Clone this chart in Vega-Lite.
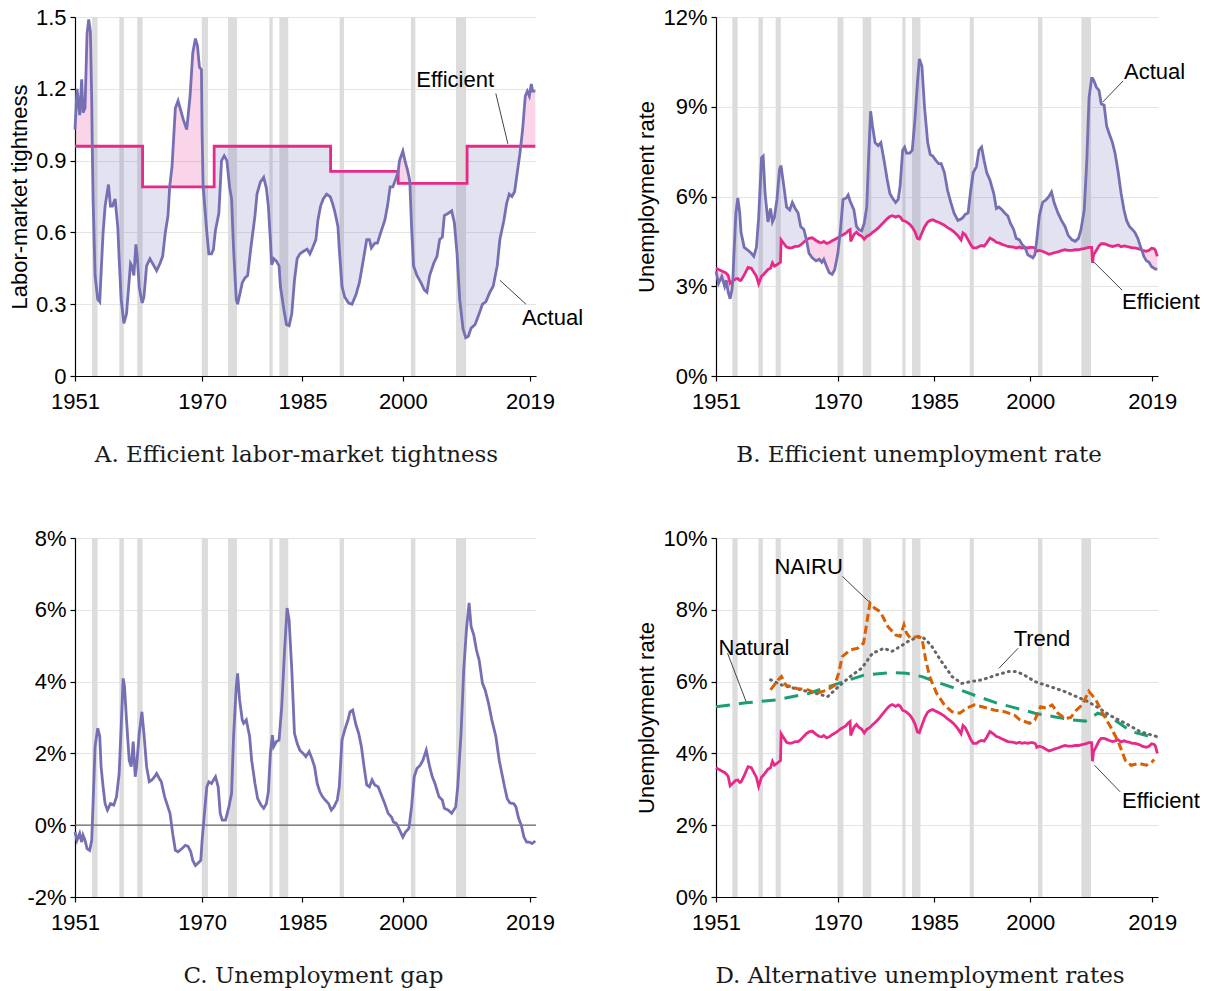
{
"$schema": "https://vega.github.io/schema/vega-lite/v6.json",
"padding": {"left": 8, "top": 6, "right": 0, "bottom": 0},
"config": {
  "view": {"stroke": null},
  "font": "Liberation Sans",
  "axis": {"labelFont": "Liberation Sans", "labelFontSize": 22, "labelColor": "#000", "titleFont": "Liberation Sans", "titleFontSize": 22, "titleFontWeight": "normal", "titleColor": "#000", "domainColor": "#000", "domainWidth": 1.2, "tickColor": "#000", "tickSize": 5, "tickWidth": 1.2, "gridColor": "#e4e4e4", "gridWidth": 1.2, "labelPadding": 4},
  "axisX": {"labelPadding": 10},
  "axisY": {"titlePadding": 4},
  "title": {"font": "DejaVu Serif", "fontSize": 23, "fontWeight": "normal", "color": "#1a1a1a"}
},
"datasets": {
  "rec": [{"t":1953.55,"t2":1954.37},{"t":1957.63,"t2":1958.3},{"t":1960.3,"t2":1961.1},{"t":1969.95,"t2":1970.87},{"t":1973.87,"t2":1975.2},{"t":1980.05,"t2":1980.55},{"t":1981.55,"t2":1982.87},{"t":1990.55,"t2":1991.2},{"t":2001.2,"t2":2001.87},{"t":2007.95,"t2":2009.45}],
  "A": [
{"t":1951.0,"a":1.03,"e":0.96},{"t":1951.3,"a":1.2,"e":0.96},{"t":1951.7,"a":1.09,"e":0.96},{"t":1952.0,"a":1.24,"e":0.96},{"t":1952.2,"a":1.1,"e":0.96},{"t":1952.5,"a":1.12,"e":0.96},{"t":1952.8,"a":1.43,"e":0.96},{"t":1953.05,"a":1.49,"e":0.96},{"t":1953.3,"a":1.44,"e":0.96},{"t":1953.5,"a":1.15,"e":0.96},{"t":1953.58,"a":0.96,"e":0.96},{"t":1953.7,"a":0.74,"e":0.96},{"t":1954.0,"a":0.42,"e":0.96},{"t":1954.4,"a":0.32,"e":0.96},{"t":1954.7,"a":0.31,"e":0.96},{"t":1954.9,"a":0.43,"e":0.96},{"t":1955.2,"a":0.6,"e":0.96},{"t":1955.5,"a":0.71,"e":0.96},{"t":1956.0,"a":0.8,"e":0.96},{"t":1956.3,"a":0.71,"e":0.96},{"t":1956.6,"a":0.71,"e":0.96},{"t":1957.0,"a":0.74,"e":0.96},{"t":1957.4,"a":0.62,"e":0.96},{"t":1957.6,"a":0.49,"e":0.96},{"t":1957.9,"a":0.32,"e":0.96},{"t":1958.3,"a":0.22,"e":0.96},{"t":1958.7,"a":0.26,"e":0.96},{"t":1959.3,"a":0.47,"e":0.96},{"t":1959.5,"a":0.46,"e":0.96},{"t":1959.8,"a":0.42,"e":0.96},{"t":1960.1,"a":0.55,"e":0.96},{"t":1960.3,"a":0.5,"e":0.96},{"t":1960.6,"a":0.37,"e":0.96},{"t":1961.0,"a":0.31,"e":0.96},{"t":1961.1,"a":0.31,"e":0.96},{"t":1961.101,"a":0.31,"e":0.79},{"t":1961.3,"a":0.33,"e":0.79},{"t":1961.7,"a":0.46,"e":0.79},{"t":1962.2,"a":0.49,"e":0.79},{"t":1962.8,"a":0.46,"e":0.79},{"t":1963.2,"a":0.44,"e":0.79},{"t":1963.7,"a":0.47,"e":0.79},{"t":1964.1,"a":0.5,"e":0.79},{"t":1964.5,"a":0.6,"e":0.79},{"t":1964.9,"a":0.67,"e":0.79},{"t":1965.15,"a":0.79,"e":0.79},{"t":1965.5,"a":0.875,"e":0.79},{"t":1966.0,"a":1.12,"e":0.79},{"t":1966.4,"a":1.15,"e":0.79},{"t":1966.8,"a":1.11,"e":0.79},{"t":1967.2,"a":1.07,"e":0.79},{"t":1967.7,"a":1.03,"e":0.79},{"t":1968.2,"a":1.17,"e":0.79},{"t":1968.6,"a":1.35,"e":0.79},{"t":1969.0,"a":1.41,"e":0.79},{"t":1969.3,"a":1.38,"e":0.79},{"t":1969.6,"a":1.29,"e":0.79},{"t":1969.9,"a":1.28,"e":0.79},{"t":1970.0,"a":1.01,"e":0.79},{"t":1970.15,"a":0.79,"e":0.79},{"t":1970.3,"a":0.74,"e":0.79},{"t":1970.7,"a":0.6,"e":0.79},{"t":1971.0,"a":0.51,"e":0.79},{"t":1971.4,"a":0.51,"e":0.79},{"t":1971.7,"a":0.53,"e":0.79},{"t":1971.8,"a":0.56,"e":0.79},{"t":1971.801,"a":0.56,"e":0.96},{"t":1972.0,"a":0.61,"e":0.96},{"t":1972.5,"a":0.68,"e":0.96},{"t":1972.9,"a":0.9,"e":0.96},{"t":1973.3,"a":0.92,"e":0.96},{"t":1973.7,"a":0.9,"e":0.96},{"t":1974.1,"a":0.79,"e":0.96},{"t":1974.4,"a":0.74,"e":0.96},{"t":1974.7,"a":0.53,"e":0.96},{"t":1975.1,"a":0.32,"e":0.96},{"t":1975.3,"a":0.3,"e":0.96},{"t":1975.7,"a":0.35,"e":0.96},{"t":1976.0,"a":0.39,"e":0.96},{"t":1976.4,"a":0.41,"e":0.96},{"t":1976.8,"a":0.42,"e":0.96},{"t":1977.3,"a":0.54,"e":0.96},{"t":1977.9,"a":0.67,"e":0.96},{"t":1978.2,"a":0.76,"e":0.96},{"t":1978.7,"a":0.81,"e":0.96},{"t":1979.2,"a":0.83,"e":0.96},{"t":1979.6,"a":0.785,"e":0.96},{"t":1979.9,"a":0.71,"e":0.96},{"t":1980.2,"a":0.57,"e":0.96},{"t":1980.4,"a":0.465,"e":0.96},{"t":1980.7,"a":0.49,"e":0.96},{"t":1981.1,"a":0.48,"e":0.96},{"t":1981.5,"a":0.46,"e":0.96},{"t":1981.7,"a":0.375,"e":0.96},{"t":1982.2,"a":0.28,"e":0.96},{"t":1982.6,"a":0.215,"e":0.96},{"t":1983.0,"a":0.21,"e":0.96},{"t":1983.4,"a":0.26,"e":0.96},{"t":1983.8,"a":0.4,"e":0.96},{"t":1984.2,"a":0.49,"e":0.96},{"t":1984.6,"a":0.51,"e":0.96},{"t":1985.1,"a":0.52,"e":0.96},{"t":1985.7,"a":0.53,"e":0.96},{"t":1986.1,"a":0.51,"e":0.96},{"t":1986.5,"a":0.535,"e":0.96},{"t":1987.0,"a":0.57,"e":0.96},{"t":1987.3,"a":0.65,"e":0.96},{"t":1987.7,"a":0.71,"e":0.96},{"t":1988.1,"a":0.74,"e":0.96},{"t":1988.6,"a":0.76,"e":0.96},{"t":1989.1,"a":0.75,"e":0.96},{"t":1989.2,"a":0.745,"e":0.96},{"t":1989.201,"a":0.745,"e":0.855},{"t":1989.5,"a":0.72,"e":0.855},{"t":1989.8,"a":0.69,"e":0.855},{"t":1990.3,"a":0.625,"e":0.855},{"t":1990.5,"a":0.53,"e":0.855},{"t":1990.9,"a":0.375,"e":0.855},{"t":1991.3,"a":0.33,"e":0.855},{"t":1991.9,"a":0.305,"e":0.855},{"t":1992.4,"a":0.3,"e":0.855},{"t":1993.0,"a":0.34,"e":0.855},{"t":1993.5,"a":0.39,"e":0.855},{"t":1994.0,"a":0.47,"e":0.855},{"t":1994.6,"a":0.57,"e":0.855},{"t":1995.0,"a":0.57,"e":0.855},{"t":1995.3,"a":0.535,"e":0.855},{"t":1995.8,"a":0.555,"e":0.855},{"t":1996.2,"a":0.555,"e":0.855},{"t":1996.7,"a":0.6,"e":0.855},{"t":1997.3,"a":0.65,"e":0.855},{"t":1997.7,"a":0.71,"e":0.855},{"t":1998.1,"a":0.79,"e":0.855},{"t":1998.5,"a":0.79,"e":0.855},{"t":1998.9,"a":0.82,"e":0.855},{"t":1999.2,"a":0.845,"e":0.855},{"t":1999.3,"a":0.855,"e":0.855},{"t":1999.301,"a":0.855,"e":0.805},{"t":1999.5,"a":0.9,"e":0.805},{"t":2000.0,"a":0.94,"e":0.805},{"t":2000.4,"a":0.89,"e":0.805},{"t":2000.7,"a":0.86,"e":0.805},{"t":2001.0,"a":0.82,"e":0.805},{"t":2001.05,"a":0.805,"e":0.805},{"t":2001.3,"a":0.625,"e":0.805},{"t":2001.6,"a":0.46,"e":0.805},{"t":2002.1,"a":0.42,"e":0.805},{"t":2002.7,"a":0.39,"e":0.805},{"t":2003.2,"a":0.36,"e":0.805},{"t":2003.6,"a":0.35,"e":0.805},{"t":2004.0,"a":0.42,"e":0.805},{"t":2004.6,"a":0.47,"e":0.805},{"t":2005.1,"a":0.5,"e":0.805},{"t":2005.5,"a":0.57,"e":0.805},{"t":2005.9,"a":0.58,"e":0.805},{"t":2006.2,"a":0.67,"e":0.805},{"t":2006.8,"a":0.68,"e":0.805},{"t":2007.3,"a":0.69,"e":0.805},{"t":2007.7,"a":0.64,"e":0.805},{"t":2008.1,"a":0.51,"e":0.805},{"t":2008.5,"a":0.32,"e":0.805},{"t":2009.0,"a":0.195,"e":0.805},{"t":2009.4,"a":0.16,"e":0.805},{"t":2009.6,"a":0.163,"e":0.805},{"t":2009.601,"a":0.163,"e":0.96},{"t":2009.8,"a":0.167,"e":0.96},{"t":2010.2,"a":0.2,"e":0.96},{"t":2010.8,"a":0.215,"e":0.96},{"t":2011.4,"a":0.26,"e":0.96},{"t":2011.9,"a":0.3,"e":0.96},{"t":2012.4,"a":0.31,"e":0.96},{"t":2013.0,"a":0.35,"e":0.96},{"t":2013.5,"a":0.375,"e":0.96},{"t":2014.1,"a":0.46,"e":0.96},{"t":2014.5,"a":0.57,"e":0.96},{"t":2015.1,"a":0.65,"e":0.96},{"t":2015.5,"a":0.72,"e":0.96},{"t":2015.9,"a":0.76,"e":0.96},{"t":2016.3,"a":0.75,"e":0.96},{"t":2016.7,"a":0.77,"e":0.96},{"t":2017.1,"a":0.85,"e":0.96},{"t":2017.5,"a":0.93,"e":0.96},{"t":2017.62,"a":0.96,"e":0.96},{"t":2017.9,"a":1.03,"e":0.96},{"t":2018.3,"a":1.17,"e":0.96},{"t":2018.6,"a":1.19,"e":0.96},{"t":2018.9,"a":1.17,"e":0.96},{"t":2019.2,"a":1.22,"e":0.96},{"t":2019.4,"a":1.19,"e":0.96},{"t":2019.8,"a":1.19,"e":0.96}
  ],
  "B": [
{"t":1951.0,"u":3.5,"ue":3.6},{"t":1951.4,"u":3.1,"ue":3.56},{"t":1951.9,"u":3.33,"ue":3.51},{"t":1952.35,"u":3.0,"ue":3.47},{"t":1952.6,"u":3.2,"ue":3.43},{"t":1952.9,"u":2.8,"ue":3.36},{"t":1953.2,"u":2.58,"ue":3.1},{"t":1953.5,"u":2.9,"ue":3.15},{"t":1953.62,"u":3.17,"ue":3.17},{"t":1953.8,"u":4.1,"ue":3.2},{"t":1954.1,"u":5.45,"ue":3.25},{"t":1954.4,"u":5.95,"ue":3.26},{"t":1954.7,"u":5.45,"ue":3.19},{"t":1954.9,"u":4.8,"ue":3.2},{"t":1955.4,"u":4.3,"ue":3.38},{"t":1956.0,"u":4.2,"ue":3.63},{"t":1956.5,"u":4.1,"ue":3.6},{"t":1956.9,"u":4.0,"ue":3.47},{"t":1957.3,"u":4.3,"ue":3.33},{"t":1957.65,"u":5.3,"ue":3.08},{"t":1958.1,"u":7.3,"ue":3.34},{"t":1958.35,"u":7.35,"ue":3.38},{"t":1958.65,"u":6.1,"ue":3.45},{"t":1959.1,"u":5.15,"ue":3.56},{"t":1959.5,"u":5.6,"ue":3.6},{"t":1959.8,"u":5.15,"ue":3.78},{"t":1960.1,"u":5.3,"ue":3.67},{"t":1960.5,"u":5.9,"ue":3.72},{"t":1960.9,"u":6.9,"ue":3.78},{"t":1961.05,"u":7.0,"ue":3.8},{"t":1961.15,"u":7.0,"ue":4.55},{"t":1961.6,"u":6.3,"ue":4.42},{"t":1962.0,"u":5.65,"ue":4.31},{"t":1962.5,"u":5.55,"ue":4.28},{"t":1962.9,"u":5.8,"ue":4.29},{"t":1963.35,"u":5.6,"ue":4.33},{"t":1963.8,"u":5.45,"ue":4.33},{"t":1964.2,"u":5.0,"ue":4.38},{"t":1964.7,"u":4.9,"ue":4.48},{"t":1965.1,"u":4.55,"ue":4.55},{"t":1965.5,"u":4.1,"ue":4.6},{"t":1966.0,"u":3.95,"ue":4.62},{"t":1966.6,"u":3.85,"ue":4.53},{"t":1967.1,"u":3.9,"ue":4.47},{"t":1967.5,"u":3.8,"ue":4.46},{"t":1967.8,"u":3.9,"ue":4.5},{"t":1968.25,"u":3.65,"ue":4.43},{"t":1968.65,"u":3.45,"ue":4.46},{"t":1969.1,"u":3.4,"ue":4.52},{"t":1969.5,"u":3.55,"ue":4.56},{"t":1970.0,"u":4.1,"ue":4.62},{"t":1970.28,"u":4.66,"ue":4.66},{"t":1970.4,"u":4.9,"ue":4.68},{"t":1970.8,"u":5.9,"ue":4.72},{"t":1971.3,"u":5.95,"ue":4.78},{"t":1971.6,"u":6.05,"ue":4.85},{"t":1971.9,"u":5.85,"ue":4.89},{"t":1972.0,"u":5.8,"ue":4.5},{"t":1972.5,"u":5.55,"ue":4.73},{"t":1972.9,"u":5.0,"ue":4.81},{"t":1973.25,"u":4.9,"ue":4.73},{"t":1973.7,"u":4.85,"ue":4.68},{"t":1974.1,"u":5.1,"ue":4.57},{"t":1974.5,"u":5.65,"ue":4.67},{"t":1974.8,"u":7.35,"ue":4.7},{"t":1975.1,"u":8.85,"ue":4.74},{"t":1975.4,"u":8.35,"ue":4.8},{"t":1975.8,"u":7.8,"ue":4.86},{"t":1976.3,"u":7.7,"ue":4.95},{"t":1976.7,"u":7.8,"ue":5.04},{"t":1977.2,"u":7.2,"ue":5.15},{"t":1977.7,"u":6.55,"ue":5.26},{"t":1978.1,"u":6.1,"ue":5.33},{"t":1978.5,"u":5.95,"ue":5.36},{"t":1979.0,"u":5.8,"ue":5.31},{"t":1979.4,"u":5.9,"ue":5.35},{"t":1979.7,"u":6.35,"ue":5.32},{"t":1980.1,"u":7.55,"ue":5.2},{"t":1980.4,"u":7.65,"ue":5.18},{"t":1980.7,"u":7.45,"ue":5.15},{"t":1981.2,"u":7.45,"ue":5.07},{"t":1981.6,"u":7.55,"ue":4.97},{"t":1982.0,"u":8.55,"ue":4.83},{"t":1982.4,"u":9.8,"ue":4.6},{"t":1982.7,"u":10.6,"ue":4.58},{"t":1983.1,"u":10.35,"ue":4.78},{"t":1983.5,"u":9.0,"ue":4.98},{"t":1984.0,"u":7.8,"ue":5.15},{"t":1984.4,"u":7.4,"ue":5.2},{"t":1984.8,"u":7.35,"ue":5.22},{"t":1985.3,"u":7.2,"ue":5.17},{"t":1985.7,"u":7.1,"ue":5.14},{"t":1986.1,"u":7.1,"ue":5.1},{"t":1986.6,"u":6.8,"ue":5.04},{"t":1987.1,"u":6.2,"ue":4.96},{"t":1987.6,"u":5.8,"ue":4.9},{"t":1988.1,"u":5.45,"ue":4.82},{"t":1988.7,"u":5.2,"ue":4.69},{"t":1989.2,"u":5.25,"ue":4.55},{"t":1989.5,"u":5.3,"ue":4.78},{"t":1989.85,"u":5.4,"ue":4.72},{"t":1990.3,"u":5.45,"ue":4.55},{"t":1990.7,"u":6.2,"ue":4.39},{"t":1991.1,"u":6.8,"ue":4.28},{"t":1991.6,"u":7.0,"ue":4.28},{"t":1992.0,"u":7.55,"ue":4.33},{"t":1992.4,"u":7.65,"ue":4.36},{"t":1992.8,"u":7.2,"ue":4.34},{"t":1993.2,"u":6.8,"ue":4.45},{"t":1993.7,"u":6.55,"ue":4.61},{"t":1994.3,"u":6.1,"ue":4.54},{"t":1994.7,"u":5.6,"ue":4.47},{"t":1995.1,"u":5.65,"ue":4.45},{"t":1995.6,"u":5.55,"ue":4.4},{"t":1996.0,"u":5.45,"ue":4.37},{"t":1996.5,"u":5.35,"ue":4.33},{"t":1996.9,"u":5.1,"ue":4.32},{"t":1997.4,"u":4.9,"ue":4.31},{"t":1997.8,"u":4.6,"ue":4.28},{"t":1998.3,"u":4.55,"ue":4.31},{"t":1998.7,"u":4.4,"ue":4.28},{"t":1999.15,"u":4.3,"ue":4.3},{"t":1999.6,"u":4.05,"ue":4.28},{"t":2000.0,"u":4.0,"ue":4.3},{"t":2000.4,"u":3.95,"ue":4.3},{"t":2000.7,"u":4.05,"ue":4.28},{"t":2000.85,"u":4.25,"ue":4.25},{"t":2001.0,"u":4.55,"ue":4.17},{"t":2001.4,"u":5.35,"ue":4.2},{"t":2001.9,"u":5.8,"ue":4.17},{"t":2002.5,"u":5.9,"ue":4.11},{"t":2002.9,"u":6.0,"ue":4.07},{"t":2003.3,"u":6.15,"ue":4.09},{"t":2003.7,"u":5.8,"ue":4.12},{"t":2004.3,"u":5.45,"ue":4.15},{"t":2004.85,"u":5.2,"ue":4.19},{"t":2005.4,"u":5.0,"ue":4.22},{"t":2005.9,"u":4.7,"ue":4.2},{"t":2006.5,"u":4.55,"ue":4.2},{"t":2007.0,"u":4.5,"ue":4.22},{"t":2007.5,"u":4.6,"ue":4.22},{"t":2007.9,"u":4.9,"ue":4.24},{"t":2008.4,"u":5.55,"ue":4.26},{"t":2008.8,"u":7.2,"ue":4.28},{"t":2009.15,"u":9.3,"ue":4.3},{"t":2009.55,"u":9.95,"ue":4.3},{"t":2009.7,"u":9.95,"ue":3.78},{"t":2009.85,"u":9.9,"ue":4.05},{"t":2010.3,"u":9.65,"ue":4.2},{"t":2010.7,"u":9.55,"ue":4.35},{"t":2011.05,"u":9.1,"ue":4.42},{"t":2011.5,"u":9.05,"ue":4.42},{"t":2011.9,"u":8.35,"ue":4.39},{"t":2012.3,"u":8.1,"ue":4.36},{"t":2012.8,"u":7.8,"ue":4.33},{"t":2013.2,"u":7.45,"ue":4.35},{"t":2013.7,"u":6.8,"ue":4.38},{"t":2014.15,"u":6.1,"ue":4.32},{"t":2014.6,"u":5.55,"ue":4.35},{"t":2015.0,"u":5.2,"ue":4.33},{"t":2015.45,"u":5.0,"ue":4.31},{"t":2015.9,"u":4.9,"ue":4.28},{"t":2016.3,"u":4.8,"ue":4.28},{"t":2016.75,"u":4.6,"ue":4.26},{"t":2017.2,"u":4.3,"ue":4.23},{"t":2017.4,"u":4.2,"ue":4.2},{"t":2017.7,"u":4.0,"ue":4.19},{"t":2018.1,"u":3.85,"ue":4.17},{"t":2018.5,"u":3.8,"ue":4.2},{"t":2018.9,"u":3.65,"ue":4.27},{"t":2019.3,"u":3.6,"ue":4.25},{"t":2019.5,"u":3.57,"ue":4.2},{"t":2019.8,"u":3.57,"ue":4.0}
  ],
  "C": [
{"t":1951.0,"g":-0.19},{"t":1951.3,"g":-0.42},{"t":1951.7,"g":-0.23},{"t":1952.0,"g":-0.47},{"t":1952.2,"g":-0.28},{"t":1952.5,"g":-0.42},{"t":1952.8,"g":-0.65},{"t":1953.2,"g":-0.7},{"t":1953.5,"g":-0.42},{"t":1953.7,"g":0.6},{"t":1954.0,"g":2.19},{"t":1954.4,"g":2.7},{"t":1954.7,"g":2.47},{"t":1954.9,"g":1.63},{"t":1955.2,"g":1.07},{"t":1955.5,"g":0.6},{"t":1955.85,"g":0.42},{"t":1956.3,"g":0.6},{"t":1956.8,"g":0.56},{"t":1957.2,"g":0.79},{"t":1957.6,"g":1.44},{"t":1957.9,"g":2.74},{"t":1958.2,"g":4.09},{"t":1958.4,"g":3.86},{"t":1958.7,"g":2.93},{"t":1959.1,"g":1.81},{"t":1959.4,"g":1.63},{"t":1959.7,"g":2.33},{"t":1960.0,"g":1.35},{"t":1960.2,"g":1.63},{"t":1960.6,"g":2.56},{"t":1961.0,"g":3.16},{"t":1961.3,"g":2.56},{"t":1961.7,"g":1.63},{"t":1962.1,"g":1.21},{"t":1962.5,"g":1.26},{"t":1962.9,"g":1.35},{"t":1963.2,"g":1.44},{"t":1963.6,"g":1.3},{"t":1963.9,"g":1.21},{"t":1964.4,"g":0.79},{"t":1964.8,"g":0.56},{"t":1965.2,"g":0.33},{"t":1965.6,"g":-0.23},{"t":1966.0,"g":-0.7},{"t":1966.4,"g":-0.74},{"t":1967.0,"g":-0.65},{"t":1967.5,"g":-0.56},{"t":1967.9,"g":-0.59},{"t":1968.3,"g":-0.74},{"t":1968.6,"g":-0.98},{"t":1969.0,"g":-1.12},{"t":1969.3,"g":-1.07},{"t":1969.8,"g":-0.98},{"t":1970.0,"g":-0.42},{"t":1970.3,"g":0.23},{"t":1970.7,"g":1.07},{"t":1971.0,"g":1.21},{"t":1971.4,"g":1.16},{"t":1971.7,"g":1.26},{"t":1972.0,"g":1.35},{"t":1972.4,"g":1.07},{"t":1972.7,"g":0.33},{"t":1973.0,"g":0.14},{"t":1973.5,"g":0.14},{"t":1974.0,"g":0.51},{"t":1974.4,"g":0.88},{"t":1974.7,"g":2.47},{"t":1975.1,"g":3.86},{"t":1975.3,"g":4.23},{"t":1975.6,"g":3.49},{"t":1976.0,"g":2.93},{"t":1976.2,"g":2.84},{"t":1976.6,"g":2.93},{"t":1977.1,"g":2.47},{"t":1977.4,"g":1.81},{"t":1977.9,"g":1.16},{"t":1978.3,"g":0.74},{"t":1978.8,"g":0.56},{"t":1979.2,"g":0.47},{"t":1979.6,"g":0.6},{"t":1979.9,"g":0.93},{"t":1980.2,"g":2.0},{"t":1980.5,"g":2.51},{"t":1980.7,"g":2.19},{"t":1981.1,"g":2.33},{"t":1981.5,"g":2.37},{"t":1981.9,"g":3.3},{"t":1982.3,"g":4.79},{"t":1982.7,"g":6.05},{"t":1983.0,"g":5.72},{"t":1983.4,"g":4.33},{"t":1983.8,"g":2.56},{"t":1984.2,"g":2.28},{"t":1984.6,"g":2.09},{"t":1985.1,"g":2.0},{"t":1985.5,"g":1.91},{"t":1986.0,"g":2.05},{"t":1986.4,"g":1.86},{"t":1986.8,"g":1.63},{"t":1987.2,"g":1.16},{"t":1987.6,"g":0.93},{"t":1988.0,"g":0.79},{"t":1988.4,"g":0.7},{"t":1988.9,"g":0.6},{"t":1989.3,"g":0.42},{"t":1989.7,"g":0.51},{"t":1990.2,"g":0.7},{"t":1990.5,"g":1.07},{"t":1990.9,"g":2.37},{"t":1991.3,"g":2.65},{"t":1991.8,"g":2.93},{"t":1992.1,"g":3.16},{"t":1992.5,"g":3.21},{"t":1993.0,"g":2.79},{"t":1993.4,"g":2.56},{"t":1993.8,"g":2.19},{"t":1994.2,"g":1.63},{"t":1994.6,"g":1.12},{"t":1995.0,"g":1.07},{"t":1995.4,"g":1.26},{"t":1995.8,"g":1.12},{"t":1996.3,"g":1.07},{"t":1996.7,"g":0.88},{"t":1997.3,"g":0.6},{"t":1997.8,"g":0.33},{"t":1998.3,"g":0.23},{"t":1998.6,"g":0.09},{"t":1999.0,"g":0.05},{"t":1999.4,"g":-0.09},{"t":2000.0,"g":-0.33},{"t":2000.4,"g":-0.19},{"t":2000.9,"g":-0.09},{"t":2001.3,"g":0.51},{"t":2001.7,"g":1.35},{"t":2002.1,"g":1.58},{"t":2002.6,"g":1.67},{"t":2003.0,"g":1.81},{"t":2003.5,"g":2.09},{"t":2004.0,"g":1.63},{"t":2004.4,"g":1.35},{"t":2004.8,"g":1.16},{"t":2005.4,"g":0.79},{"t":2005.9,"g":0.7},{"t":2006.2,"g":0.47},{"t":2006.8,"g":0.42},{"t":2007.3,"g":0.33},{"t":2007.9,"g":0.51},{"t":2008.2,"g":1.07},{"t":2008.7,"g":2.56},{"t":2009.1,"g":4.33},{"t":2009.5,"g":5.44},{"t":2009.9,"g":6.19},{"t":2010.2,"g":5.53},{"t":2010.6,"g":5.3},{"t":2011.0,"g":4.88},{"t":2011.4,"g":4.6},{"t":2011.9,"g":3.95},{"t":2012.3,"g":3.77},{"t":2012.8,"g":3.4},{"t":2013.3,"g":2.93},{"t":2013.9,"g":2.47},{"t":2014.4,"g":1.81},{"t":2014.8,"g":1.44},{"t":2015.2,"g":1.07},{"t":2015.6,"g":0.74},{"t":2016.0,"g":0.62},{"t":2016.6,"g":0.6},{"t":2016.9,"g":0.51},{"t":2017.3,"g":0.19},{"t":2017.7,"g":0.0},{"t":2018.1,"g":-0.33},{"t":2018.5,"g":-0.47},{"t":2018.9,"g":-0.47},{"t":2019.3,"g":-0.51},{"t":2019.8,"g":-0.44}
  ],
  "nairu": [
{"t":1959.5,"v":5.77},{"t":1960.7,"v":6.05},{"t":1961.2,"v":6.14},{"t":1961.9,"v":5.9},{"t":1963.6,"v":5.81},{"t":1965.4,"v":5.77},{"t":1966.6,"v":5.67},{"t":1968.4,"v":5.77},{"t":1969.5,"v":5.9},{"t":1970.1,"v":6.23},{"t":1970.7,"v":6.7},{"t":1971.9,"v":6.88},{"t":1973.1,"v":6.93},{"t":1974.0,"v":7.07},{"t":1974.5,"v":7.63},{"t":1975.0,"v":8.19},{"t":1975.7,"v":8.05},{"t":1976.6,"v":7.95},{"t":1977.8,"v":7.53},{"t":1979.0,"v":7.3},{"t":1979.7,"v":7.26},{"t":1980.3,"v":7.58},{"t":1980.7,"v":7.35},{"t":1981.3,"v":7.21},{"t":1982.5,"v":7.26},{"t":1983.1,"v":7.21},{"t":1983.7,"v":6.6},{"t":1984.3,"v":6.14},{"t":1985.4,"v":5.67},{"t":1986.6,"v":5.35},{"t":1987.8,"v":5.16},{"t":1989.0,"v":5.12},{"t":1990.1,"v":5.26},{"t":1991.3,"v":5.35},{"t":1992.5,"v":5.3},{"t":1994.3,"v":5.21},{"t":1996.0,"v":5.16},{"t":1997.5,"v":5.07},{"t":1998.4,"v":4.93},{"t":1999.9,"v":4.84},{"t":2000.7,"v":4.93},{"t":2001.6,"v":5.3},{"t":2002.5,"v":5.26},{"t":2003.4,"v":5.35},{"t":2004.3,"v":5.12},{"t":2005.4,"v":4.97},{"t":2006.3,"v":5.0},{"t":2007.2,"v":5.21},{"t":2008.1,"v":5.35},{"t":2009.1,"v":5.73},{"t":2010.2,"v":5.5},{"t":2011.2,"v":5.14},{"t":2012.5,"v":4.74},{"t":2013.7,"v":4.33},{"t":2014.8,"v":3.81},{"t":2015.7,"v":3.67},{"t":2016.9,"v":3.72},{"t":2018.1,"v":3.67},{"t":2019.0,"v":3.77},{"t":2019.3,"v":3.83}
  ],
  "trend": [
{"t":1959.5,"v":6.05},{"t":1961.3,"v":5.9},{"t":1964.2,"v":5.77},{"t":1966.6,"v":5.67},{"t":1968.4,"v":5.58},{"t":1969.8,"v":5.81},{"t":1971.9,"v":6.14},{"t":1973.7,"v":6.37},{"t":1975.4,"v":6.79},{"t":1977.2,"v":6.93},{"t":1978.4,"v":6.84},{"t":1980.1,"v":7.02},{"t":1981.3,"v":7.16},{"t":1983.1,"v":7.26},{"t":1984.5,"v":7.02},{"t":1986.0,"v":6.6},{"t":1987.8,"v":6.14},{"t":1989.3,"v":5.95},{"t":1990.7,"v":6.0},{"t":1992.5,"v":6.05},{"t":1994.8,"v":6.19},{"t":1996.6,"v":6.28},{"t":1997.8,"v":6.28},{"t":1999.0,"v":6.19},{"t":2000.7,"v":6.0},{"t":2003.1,"v":5.86},{"t":2005.4,"v":5.72},{"t":2007.2,"v":5.58},{"t":2009.0,"v":5.44},{"t":2010.7,"v":5.26},{"t":2012.5,"v":5.05},{"t":2014.8,"v":4.84},{"t":2017.2,"v":4.6},{"t":2019.7,"v":4.47}
  ],
  "natural": [
{"t":1951.0,"v":5.3},{"t":1955.7,"v":5.41},{"t":1960.4,"v":5.49},{"t":1965.4,"v":5.67},{"t":1970.1,"v":5.95},{"t":1974.2,"v":6.19},{"t":1978.4,"v":6.25},{"t":1980.7,"v":6.23},{"t":1983.1,"v":6.14},{"t":1986.0,"v":5.95},{"t":1989.0,"v":5.77},{"t":1991.9,"v":5.58},{"t":1994.8,"v":5.4},{"t":1997.8,"v":5.26},{"t":2000.7,"v":5.12},{"t":2003.7,"v":5.02},{"t":2006.6,"v":4.93},{"t":2008.6,"v":4.9},{"t":2010.5,"v":5.12},{"t":2012.6,"v":5.0},{"t":2015.7,"v":4.61},{"t":2018.1,"v":4.5},{"t":2019.8,"v":4.45}
  ]
},
"columns": 2,
"bounds": "flush",
"spacing": {"row": 162, "column": 180},
"concat": [
 {
  "width": 461, "height": 359,
  "title": {"text": "A. Efficient labor-market tightness", "orient": "bottom", "anchor": "middle", "frame": "group", "offset": 32, "dx": -9},
  "layer": [
   {"data": {"name": "rec"}, "mark": {"type": "rect", "color": "#dcdcdc"},
    "encoding": {"x": {"field":"t","type":"quantitative","scale":{"domain":[1951,2019.9],"nice":false,"zero":false},"axis":{"values":[1951,1970,1985,2000,2019],"format":"d","title":null,"grid":false,"labelFlush":false}}, "x2": {"field": "t2"}}},
   {"data": {"name": "A"}, "transform": [{"filter": "datum.a >= datum.e"}], "mark": {"type": "area", "color": "#e7298a", "opacity": 0.2},
    "encoding": {"x": {"field":"t","type":"quantitative","scale":{"domain":[1951,2019.9],"nice":false,"zero":false},"axis":{"values":[1951,1970,1985,2000,2019],"format":"d","title":null,"grid":false,"labelFlush":false}},
      "y": {"field":"a","type":"quantitative","scale":{"domain":[0,1.5],"nice":false,"zero":false},"axis":{"values":[0,0.3,0.6,0.9,1.2,1.5],"format":".1~f","title":"Labor-market tightness","grid":true}}, "y2": {"field": "e"}}},
   {"data": {"name": "A"}, "transform": [{"filter": "datum.a <= datum.e"}], "mark": {"type": "area", "color": "#7570b3", "opacity": 0.2},
    "encoding": {"x": {"field":"t","type":"quantitative","scale":{"domain":[1951,2019.9],"nice":false,"zero":false},"axis":{"values":[1951,1970,1985,2000,2019],"format":"d","title":null,"grid":false,"labelFlush":false}},
      "y": {"field":"a","type":"quantitative","scale":{"domain":[0,1.5],"nice":false,"zero":false},"axis":{"values":[0,0.3,0.6,0.9,1.2,1.5],"format":".1~f","title":"Labor-market tightness","grid":true}}, "y2": {"field": "e"}}},
   {"data": {"name": "A"}, "mark": {"type": "line", "color": "#e7298a", "strokeWidth": 2.8},
    "encoding": {"x": {"field":"t","type":"quantitative","scale":{"domain":[1951,2019.9],"nice":false,"zero":false},"axis":{"values":[1951,1970,1985,2000,2019],"format":"d","title":null,"grid":false,"labelFlush":false}},
      "y": {"field":"e","type":"quantitative","scale":{"domain":[0,1.5],"nice":false,"zero":false},"axis":{"values":[0,0.3,0.6,0.9,1.2,1.5],"format":".1~f","title":"Labor-market tightness","grid":true}}}},
   {"data": {"name": "A"}, "mark": {"type": "line", "color": "#7570b3", "strokeWidth": 2.8},
    "encoding": {"x": {"field":"t","type":"quantitative","scale":{"domain":[1951,2019.9],"nice":false,"zero":false},"axis":{"values":[1951,1970,1985,2000,2019],"format":"d","title":null,"grid":false,"labelFlush":false}},
      "y": {"field":"a","type":"quantitative","scale":{"domain":[0,1.5],"nice":false,"zero":false},"axis":{"values":[0,0.3,0.6,0.9,1.2,1.5],"format":".1~f","title":"Labor-market tightness","grid":true}}}},
   {"data": {"values": [{"t": 2013.9, "y": 1.18, "t2": 2015.7, "y2": 0.97}, {"t": 2014.5, "y": 0.40, "t2": 2018.4, "y2": 0.30}]}, "mark": {"type": "rule", "color": "#444", "strokeWidth": 1},
    "encoding": {"x": {"field":"t","type":"quantitative","scale":{"domain":[1951,2019.9],"nice":false,"zero":false},"axis":{"values":[1951,1970,1985,2000,2019],"format":"d","title":null,"grid":false,"labelFlush":false}},
      "y": {"field":"y","type":"quantitative","scale":{"domain":[0,1.5],"nice":false,"zero":false},"axis":{"values":[0,0.3,0.6,0.9,1.2,1.5],"format":".1~f","title":"Labor-market tightness","grid":true}}, "x2": {"field": "t2"}, "y2": {"field": "y2"}}},
   {"data": {"values": [{"t": 2002.0, "y": 1.237, "label": "Efficient"}, {"t": 2017.8, "y": 0.242, "label": "Actual"}]}, "mark": {"type": "text", "align": "left", "baseline": "middle", "fontSize": 22, "font": "Liberation Sans", "color": "#000"},
    "encoding": {"x": {"field":"t","type":"quantitative","scale":{"domain":[1951,2019.9],"nice":false,"zero":false},"axis":{"values":[1951,1970,1985,2000,2019],"format":"d","title":null,"grid":false,"labelFlush":false}},
      "y": {"field":"y","type":"quantitative","scale":{"domain":[0,1.5],"nice":false,"zero":false},"axis":{"values":[0,0.3,0.6,0.9,1.2,1.5],"format":".1~f","title":"Labor-market tightness","grid":true}}, "text": {"field": "label"}}}
  ]
 },
 {
  "width": 442, "height": 359,
  "title": {"text": "B. Efficient unemployment rate", "orient": "bottom", "anchor": "middle", "frame": "group", "offset": 32, "dx": -18},
  "layer": [
   {"data": {"name": "rec"}, "mark": {"type": "rect", "color": "#dcdcdc"},
    "encoding": {"x": {"field":"t","type":"quantitative","scale":{"domain":[1951,2019.9],"nice":false,"zero":false},"axis":{"values":[1951,1970,1985,2000,2019],"format":"d","title":null,"grid":false,"labelFlush":false}}, "x2": {"field": "t2"}}},
   {"data": {"name": "B"}, "transform": [{"filter": "datum.u >= datum.ue"}], "mark": {"type": "area", "color": "#7570b3", "opacity": 0.2},
    "encoding": {"x": {"field":"t","type":"quantitative","scale":{"domain":[1951,2019.9],"nice":false,"zero":false},"axis":{"values":[1951,1970,1985,2000,2019],"format":"d","title":null,"grid":false,"labelFlush":false}},
      "y": {"field":"u","type":"quantitative","scale":{"domain":[0,12],"nice":false,"zero":false},"axis":{"values":[0,3,6,9,12],"labelExpr":"datum.value + '%'","title":"Unemployment rate","grid":true}}, "y2": {"field": "ue"}}},
   {"data": {"name": "B"}, "transform": [{"filter": "datum.u <= datum.ue"}], "mark": {"type": "area", "color": "#e7298a", "opacity": 0.2},
    "encoding": {"x": {"field":"t","type":"quantitative","scale":{"domain":[1951,2019.9],"nice":false,"zero":false},"axis":{"values":[1951,1970,1985,2000,2019],"format":"d","title":null,"grid":false,"labelFlush":false}},
      "y": {"field":"u","type":"quantitative","scale":{"domain":[0,12],"nice":false,"zero":false},"axis":{"values":[0,3,6,9,12],"labelExpr":"datum.value + '%'","title":"Unemployment rate","grid":true}}, "y2": {"field": "ue"}}},
   {"data": {"name": "B"}, "mark": {"type": "line", "color": "#e7298a", "strokeWidth": 2.8},
    "encoding": {"x": {"field":"t","type":"quantitative","scale":{"domain":[1951,2019.9],"nice":false,"zero":false},"axis":{"values":[1951,1970,1985,2000,2019],"format":"d","title":null,"grid":false,"labelFlush":false}},
      "y": {"field":"ue","type":"quantitative","scale":{"domain":[0,12],"nice":false,"zero":false},"axis":{"values":[0,3,6,9,12],"labelExpr":"datum.value + '%'","title":"Unemployment rate","grid":true}}}},
   {"data": {"name": "B"}, "mark": {"type": "line", "color": "#7570b3", "strokeWidth": 2.8},
    "encoding": {"x": {"field":"t","type":"quantitative","scale":{"domain":[1951,2019.9],"nice":false,"zero":false},"axis":{"values":[1951,1970,1985,2000,2019],"format":"d","title":null,"grid":false,"labelFlush":false}},
      "y": {"field":"u","type":"quantitative","scale":{"domain":[0,12],"nice":false,"zero":false},"axis":{"values":[0,3,6,9,12],"labelExpr":"datum.value + '%'","title":"Unemployment rate","grid":true}}}},
   {"data": {"values": [{"t": 2011.3, "y": 9.16, "t2": 2014.45, "y2": 9.86}, {"t": 2009.9, "y": 3.81, "t2": 2014.3, "y2": 2.87}]}, "mark": {"type": "rule", "color": "#444", "strokeWidth": 1},
    "encoding": {"x": {"field":"t","type":"quantitative","scale":{"domain":[1951,2019.9],"nice":false,"zero":false},"axis":{"values":[1951,1970,1985,2000,2019],"format":"d","title":null,"grid":false,"labelFlush":false}},
      "y": {"field":"y","type":"quantitative","scale":{"domain":[0,12],"nice":false,"zero":false},"axis":{"values":[0,3,6,9,12],"labelExpr":"datum.value + '%'","title":"Unemployment rate","grid":true}}, "x2": {"field": "t2"}, "y2": {"field": "y2"}}},
   {"data": {"values": [{"t": 2014.6, "y": 10.16, "label": "Actual"}, {"t": 2014.3, "y": 2.47, "label": "Efficient"}]}, "mark": {"type": "text", "align": "left", "baseline": "middle", "fontSize": 22, "font": "Liberation Sans", "color": "#000"},
    "encoding": {"x": {"field":"t","type":"quantitative","scale":{"domain":[1951,2019.9],"nice":false,"zero":false},"axis":{"values":[1951,1970,1985,2000,2019],"format":"d","title":null,"grid":false,"labelFlush":false}},
      "y": {"field":"y","type":"quantitative","scale":{"domain":[0,12],"nice":false,"zero":false},"axis":{"values":[0,3,6,9,12],"labelExpr":"datum.value + '%'","title":"Unemployment rate","grid":true}}, "text": {"field": "label"}}}
  ]
 },
 {
  "width": 461, "height": 359,
  "title": {"text": "C. Unemployment gap", "orient": "bottom", "anchor": "middle", "frame": "group", "offset": 32, "dx": 8},
  "layer": [
   {"data": {"name": "rec"}, "mark": {"type": "rect", "color": "#dcdcdc"},
    "encoding": {"x": {"field":"t","type":"quantitative","scale":{"domain":[1951,2019.9],"nice":false,"zero":false},"axis":{"values":[1951,1970,1985,2000,2019],"format":"d","title":null,"grid":false,"labelFlush":false}}, "x2": {"field": "t2"}}},
   {"data": {"values": [{"y": 0}]}, "mark": {"type": "rule", "color": "#666", "strokeWidth": 1.2},
    "encoding": {"y": {"field":"y","type":"quantitative","scale":{"domain":[-2,8],"nice":false,"zero":false},"axis":{"values":[-2,0,2,4,6,8],"labelExpr":"datum.value + '%'","title":null,"grid":true}}}},
   {"data": {"name": "C"}, "mark": {"type": "line", "color": "#7570b3", "strokeWidth": 2.8},
    "encoding": {"x": {"field":"t","type":"quantitative","scale":{"domain":[1951,2019.9],"nice":false,"zero":false},"axis":{"values":[1951,1970,1985,2000,2019],"format":"d","title":null,"grid":false,"labelFlush":false}},
      "y": {"field":"g","type":"quantitative","scale":{"domain":[-2,8],"nice":false,"zero":false},"axis":{"values":[-2,0,2,4,6,8],"labelExpr":"datum.value + '%'","title":null,"grid":true}}}}
  ]
 },
 {
  "width": 442, "height": 359,
  "title": {"text": "D. Alternative unemployment rates", "orient": "bottom", "anchor": "middle", "frame": "group", "offset": 32, "dx": -17},
  "layer": [
   {"data": {"name": "rec"}, "mark": {"type": "rect", "color": "#dcdcdc"},
    "encoding": {"x": {"field":"t","type":"quantitative","scale":{"domain":[1951,2019.9],"nice":false,"zero":false},"axis":{"values":[1951,1970,1985,2000,2019],"format":"d","title":null,"grid":false,"labelFlush":false}}, "x2": {"field": "t2"}}},
   {"data": {"name": "natural"}, "mark": {"type": "line", "color": "#1b9e77", "strokeWidth": 3, "strokeDash": [14, 9]},
    "encoding": {"x": {"field":"t","type":"quantitative","scale":{"domain":[1951,2019.9],"nice":false,"zero":false},"axis":{"values":[1951,1970,1985,2000,2019],"format":"d","title":null,"grid":false,"labelFlush":false}},
      "y": {"field":"v","type":"quantitative","scale":{"domain":[0,10],"nice":false,"zero":false},"axis":{"values":[0,2,4,6,8,10],"labelExpr":"datum.value + '%'","title":"Unemployment rate","grid":true}}}},
   {"data": {"name": "trend"}, "mark": {"type": "line", "color": "#666666", "strokeWidth": 3, "strokeDash": [1, 5], "strokeCap": "round"},
    "encoding": {"x": {"field":"t","type":"quantitative","scale":{"domain":[1951,2019.9],"nice":false,"zero":false},"axis":{"values":[1951,1970,1985,2000,2019],"format":"d","title":null,"grid":false,"labelFlush":false}},
      "y": {"field":"v","type":"quantitative","scale":{"domain":[0,10],"nice":false,"zero":false},"axis":{"values":[0,2,4,6,8,10],"labelExpr":"datum.value + '%'","title":"Unemployment rate","grid":true}}}},
   {"data": {"name": "nairu"}, "mark": {"type": "line", "color": "#d95f02", "strokeWidth": 3, "strokeDash": [8, 4]},
    "encoding": {"x": {"field":"t","type":"quantitative","scale":{"domain":[1951,2019.9],"nice":false,"zero":false},"axis":{"values":[1951,1970,1985,2000,2019],"format":"d","title":null,"grid":false,"labelFlush":false}},
      "y": {"field":"v","type":"quantitative","scale":{"domain":[0,10],"nice":false,"zero":false},"axis":{"values":[0,2,4,6,8,10],"labelExpr":"datum.value + '%'","title":"Unemployment rate","grid":true}}}},
   {"data": {"name": "B"}, "mark": {"type": "line", "color": "#e7298a", "strokeWidth": 2.8},
    "encoding": {"x": {"field":"t","type":"quantitative","scale":{"domain":[1951,2019.9],"nice":false,"zero":false},"axis":{"values":[1951,1970,1985,2000,2019],"format":"d","title":null,"grid":false,"labelFlush":false}},
      "y": {"field":"ue","type":"quantitative","scale":{"domain":[0,10],"nice":false,"zero":false},"axis":{"values":[0,2,4,6,8,10],"labelExpr":"datum.value + '%'","title":"Unemployment rate","grid":true}}}},
   {"data": {"values": [{"t": 1970.7, "y": 8.93, "t2": 1974.8, "y2": 8.23}, {"t": 1952.8, "y": 6.79, "t2": 1955.7, "y2": 5.44}, {"t": 1998.1, "y": 6.93, "t2": 1995.1, "y2": 6.37}, {"t": 2010.0, "y": 3.67, "t2": 2014.0, "y2": 2.93}]}, "mark": {"type": "rule", "color": "#444", "strokeWidth": 1},
    "encoding": {"x": {"field":"t","type":"quantitative","scale":{"domain":[1951,2019.9],"nice":false,"zero":false},"axis":{"values":[1951,1970,1985,2000,2019],"format":"d","title":null,"grid":false,"labelFlush":false}},
      "y": {"field":"y","type":"quantitative","scale":{"domain":[0,10],"nice":false,"zero":false},"axis":{"values":[0,2,4,6,8,10],"labelExpr":"datum.value + '%'","title":"Unemployment rate","grid":true}}, "x2": {"field": "t2"}, "y2": {"field": "y2"}}},
   {"data": {"values": [{"t": 1960.1, "y": 9.18, "label": "NAIRU"}, {"t": 1951.4, "y": 6.94, "label": "Natural"}, {"t": 1997.4, "y": 7.19, "label": "Trend"}, {"t": 2014.3, "y": 2.67, "label": "Efficient"}]}, "mark": {"type": "text", "align": "left", "baseline": "middle", "fontSize": 22, "font": "Liberation Sans", "color": "#000"},
    "encoding": {"x": {"field":"t","type":"quantitative","scale":{"domain":[1951,2019.9],"nice":false,"zero":false},"axis":{"values":[1951,1970,1985,2000,2019],"format":"d","title":null,"grid":false,"labelFlush":false}},
      "y": {"field":"y","type":"quantitative","scale":{"domain":[0,10],"nice":false,"zero":false},"axis":{"values":[0,2,4,6,8,10],"labelExpr":"datum.value + '%'","title":"Unemployment rate","grid":true}}, "text": {"field": "label"}}}
  ]
 }
]
}
